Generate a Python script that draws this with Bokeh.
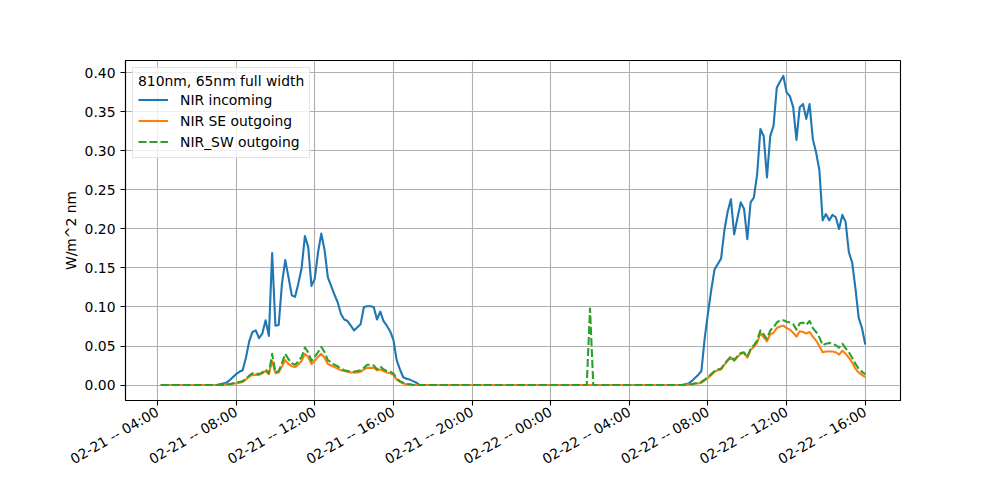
import math
from datetime import datetime, timedelta

from bokeh.plotting import figure
from bokeh.models import Range1d, FixedTicker, DatetimeTickFormatter, PrintfTickFormatter
from bokeh.embed import file_html
from bokeh.resources import INLINE

# ---------------- data (10-minute samples, 02-21 04:10 .. 02-22 16:00) ----------------
series_start = datetime(2021, 2, 21, 4, 10)
sample_minutes = 10
n_samples = 216

day1_first_index = 17   # 02-21 07:00
blue_day1 = [0.000, 0.001, 0.002, 0.003, 0.006, 0.010, 0.014, 0.017, 0.019, 0.035,
             0.056, 0.068, 0.070, 0.060, 0.066, 0.083, 0.063, 0.169, 0.076, 0.077,
             0.130, 0.160, 0.138, 0.115, 0.113, 0.130, 0.150, 0.191, 0.177, 0.127,
             0.136, 0.170, 0.194, 0.173, 0.138, 0.127, 0.116, 0.106, 0.091, 0.084,
             0.082, 0.076, 0.070, 0.074, 0.078, 0.100, 0.101, 0.101, 0.100, 0.084,
             0.094, 0.082, 0.076, 0.069, 0.058, 0.032, 0.020, 0.010, 0.008, 0.007,
             0.005, 0.003, 0.000, 0.000]
orange_day1 = [0.000, 0.000, 0.000, 0.001, 0.001, 0.002, 0.002, 0.003, 0.004, 0.007,
               0.011, 0.013, 0.013, 0.013, 0.015, 0.018, 0.014, 0.031, 0.015, 0.016,
               0.024, 0.032, 0.027, 0.024, 0.023, 0.026, 0.031, 0.040, 0.036, 0.027,
               0.031, 0.036, 0.040, 0.035, 0.027, 0.025, 0.023, 0.021, 0.019, 0.018,
               0.017, 0.016, 0.016, 0.016, 0.017, 0.020, 0.022, 0.022, 0.022, 0.019,
               0.020, 0.018, 0.016, 0.015, 0.013, 0.007, 0.004, 0.002, 0.001, 0.001,
               0.000, 0.000, 0.000, 0.000]
green_day1 = [0.000, 0.000, 0.000, 0.001, 0.001, 0.002, 0.003, 0.004, 0.005, 0.008,
              0.012, 0.015, 0.015, 0.014, 0.016, 0.020, 0.015, 0.040, 0.016, 0.018,
              0.028, 0.040, 0.033, 0.028, 0.026, 0.030, 0.036, 0.048, 0.042, 0.031,
              0.036, 0.042, 0.049, 0.042, 0.032, 0.029, 0.026, 0.024, 0.021, 0.019,
              0.018, 0.017, 0.017, 0.018, 0.019, 0.022, 0.026, 0.026, 0.025, 0.020,
              0.024, 0.020, 0.018, 0.017, 0.015, 0.008, 0.005, 0.003, 0.001, 0.001,
              0.000, 0.000, 0.000, 0.000]

day2_first_index = 157  # 02-22 06:20
blue_day2 = [0.000, 0.000, 0.000, 0.001, 0.002, 0.005, 0.009, 0.013, 0.018, 0.060,
             0.092, 0.122, 0.148, 0.155, 0.162, 0.198, 0.222, 0.238, 0.193, 0.214,
             0.234, 0.226, 0.187, 0.234, 0.240, 0.270, 0.328, 0.319, 0.266, 0.319,
             0.332, 0.381, 0.389, 0.396, 0.375, 0.370, 0.356, 0.314, 0.356, 0.360,
             0.341, 0.360, 0.315, 0.298, 0.275, 0.211, 0.219, 0.211, 0.218, 0.215,
             0.200, 0.218, 0.209, 0.170, 0.157, 0.124, 0.086, 0.073, 0.052]
orange_day2 = [0.000, 0.000, 0.000, 0.000, 0.001, 0.001, 0.002, 0.002, 0.003, 0.006,
               0.009, 0.013, 0.017, 0.019, 0.020, 0.026, 0.031, 0.035, 0.031, 0.036,
               0.040, 0.041, 0.035, 0.045, 0.049, 0.054, 0.067, 0.061, 0.056, 0.065,
               0.067, 0.073, 0.075, 0.076, 0.073, 0.071, 0.067, 0.062, 0.069, 0.068,
               0.066, 0.068, 0.062, 0.057, 0.050, 0.042, 0.043, 0.043, 0.043, 0.042,
               0.039, 0.044, 0.040, 0.035, 0.029, 0.021, 0.016, 0.013, 0.010]
green_day2 = [0.000, 0.000, 0.000, 0.000, 0.001, 0.001, 0.002, 0.003, 0.004, 0.007,
              0.010, 0.014, 0.018, 0.020, 0.021, 0.027, 0.032, 0.037, 0.032, 0.037,
              0.041, 0.042, 0.036, 0.046, 0.051, 0.057, 0.070, 0.065, 0.059, 0.070,
              0.074, 0.080, 0.083, 0.083, 0.081, 0.080, 0.078, 0.071, 0.079, 0.080,
              0.077, 0.082, 0.073, 0.068, 0.061, 0.051, 0.053, 0.054, 0.053, 0.051,
              0.048, 0.053, 0.047, 0.042, 0.035, 0.027, 0.021, 0.017, 0.014]

green_spike_index = 131  # 02-22 02:00
green_spike_value = 0.098

tick_times = ["2021-02-21 04:00", "2021-02-21 08:00", "2021-02-21 12:00", "2021-02-21 16:00",
              "2021-02-21 20:00", "2021-02-22 00:00", "2021-02-22 04:00", "2021-02-22 08:00",
              "2021-02-22 12:00", "2021-02-22 16:00"]
y_ticks = [0.00, 0.05, 0.10, 0.15, 0.20, 0.25, 0.30, 0.35, 0.40]

series_names = ["NIR incoming", "NIR SE outgoing", "NIR_SW outgoing"]
legend_title = "810nm, 65nm full width"


def assemble(day1, day2, extra=None):
    vals = [0.0] * n_samples
    for k, v in enumerate(day1):
        if day1_first_index + k < n_samples:
            vals[day1_first_index + k] = v
    for k, v in enumerate(day2):
        if day2_first_index + k < n_samples:
            vals[day2_first_index + k] = v
    if extra:
        for idx, v in extra.items():
            vals[idx] = v
    return vals


times = [series_start + timedelta(minutes=sample_minutes * i) for i in range(n_samples)]
blue = assemble(blue_day1, blue_day2)
orange = assemble(orange_day1, orange_day2)
green = assemble(green_day1, green_day2, {green_spike_index: green_spike_value})

# ---------------- figure ----------------
FONT = "DejaVu Sans"
FS = "13.9px"

span = times[-1] - times[0]
pad = span * 0.05
ymax = max(blue)
ypad = ymax * 0.05

p = figure(width=984, height=484, output_backend="svg", toolbar_location=None,
           x_axis_type="datetime",
           x_range=Range1d(times[0] - pad, times[-1] + pad),
           y_range=Range1d(-ypad, ymax + ypad),
           min_border_left=125, min_border_right=84, min_border_top=60, min_border_bottom=84)

p.background_fill_color = "white"
p.border_fill_color = "white"
p.outline_line_color = "black"
p.outline_line_width = 1.1

colors = ["#1f77b4", "#ff7f0e", "#2ca02c"]
p.line(times, blue, line_color=colors[0], line_width=2.1, line_join="round", legend_label=series_names[0])
p.line(times, orange, line_color=colors[1], line_width=2.1, line_join="round", legend_label=series_names[1])
p.line(times, green, line_color=colors[2], line_width=2.1, line_join="round", line_dash="8 3",
       legend_label=series_names[2])

tick_dt = [datetime.strptime(t, "%Y-%m-%d %H:%M") for t in tick_times]
epoch = datetime(1970, 1, 1)
tick_ms = [(t - epoch).total_seconds() * 1000.0 for t in tick_dt]

p.xaxis.ticker = FixedTicker(ticks=tick_ms)
fmt = "%m-%d -- %H:%M"
p.xaxis.formatter = DatetimeTickFormatter(minutes=fmt, hourmin=fmt, hours=fmt, days=fmt, months=fmt, years=fmt)
p.xaxis.major_label_orientation = math.pi / 6
p.yaxis.ticker = FixedTicker(ticks=y_ticks)
p.yaxis.formatter = PrintfTickFormatter(format="%.2f")
p.yaxis.axis_label = "W/m^2 nm"

for ax in (p.xaxis[0], p.yaxis[0]):
    ax.major_label_text_font = FONT
    ax.major_label_text_font_size = FS
    ax.major_label_text_color = "black"
    ax.axis_label_text_font = FONT
    ax.axis_label_text_font_size = FS
    ax.axis_label_text_font_style = "normal"
    ax.axis_label_text_color = "black"
    ax.axis_line_color = "black"
    ax.axis_line_width = 1.1
    ax.major_tick_line_color = "black"
    ax.major_tick_line_width = 1.1
    ax.major_tick_out = 5
    ax.major_tick_in = 0
    ax.minor_tick_line_color = None
    ax.major_label_standoff = 5
p.yaxis.axis_label_standoff = 3

p.xgrid.ticker = FixedTicker(ticks=tick_ms)
p.ygrid.ticker = FixedTicker(ticks=y_ticks)
for g in (p.xgrid[0], p.ygrid[0]):
    g.grid_line_color = "#b0b0b0"
    g.grid_line_width = 1.1

lg = p.legend[0]
lg.location = "top_left"
lg.title = legend_title
lg.title_text_font = FONT
lg.title_text_font_size = FS
lg.title_text_font_style = "normal"
lg.title_text_color = "black"
lg.title_standoff = 0
lg.label_text_font = FONT
lg.label_text_font_size = FS
lg.label_text_color = "black"
lg.margin = 7
lg.padding = 5
lg.spacing = 0
lg.label_height = 21
lg.glyph_height = 21
lg.glyph_width = 30
lg.label_standoff = 12
lg.border_line_color = "#cccccc"
lg.border_line_width = 1
lg.background_fill_alpha = 0.8

open("out.html", "w").write(file_html(p, INLINE))
